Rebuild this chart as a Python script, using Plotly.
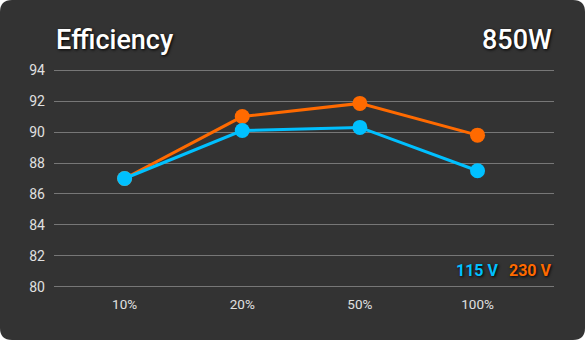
import plotly.graph_objects as go

categories = ["10%", "20%", "50%", "100%"]
v115 = [87.0, 90.1, 90.3, 87.5]
v230 = [87.0, 91.0, 91.85, 89.8]
y_ticks = [80, 82, 84, 86, 88, 90, 92, 94]

BLUE = "#00C0FF"
ORANGE = "#FF6A00"
W, H = 585, 340
ML, MR, MT, MB = 54, 31, 67, 50

fig = go.Figure()
fig.add_trace(go.Scatter(x=categories, y=v230, mode="lines+markers",
                         line=dict(color=ORANGE, width=3), marker=dict(size=15, color=ORANGE),
                         name="230 V", showlegend=False))
fig.add_trace(go.Scatter(x=categories, y=v115, mode="lines+markers",
                         line=dict(color=BLUE, width=3), marker=dict(size=15, color=BLUE),
                         name="115 V", showlegend=False))

pw = W - ML - MR
ph = H - MT - MB
x0 = -ML / pw
x1 = 1 + MR / pw
y0 = -MB / ph
y1 = 1 + MT / ph
r = 12
rx = r / pw
ry = r / ph
path = (f"M {x0+rx},{y1} L {x1-rx},{y1} Q {x1},{y1} {x1},{y1-ry} "
        f"L {x1},{y0+ry} Q {x1},{y0} {x1-rx},{y0} L {x0+rx},{y0} Q {x0},{y0} {x0},{y0+ry} "
        f"L {x0},{y1-ry} Q {x0},{y1} {x0+rx},{y1} Z")
fig.add_shape(type="path", path=path, xref="paper", yref="paper",
              fillcolor="#333333", line=dict(width=0), layer="below")

shadow = "1px 1px 3px #000000"
fig.add_annotation(text="Efficiency", xref="paper", yref="paper", x=0, y=1 + (MT - 40) / ph,
                   xanchor="left", yanchor="middle", showarrow=False,
                   font=dict(family="Roboto", size=27, weight=500, color="white", shadow=shadow))
fig.add_annotation(text="850W", xref="paper", yref="paper", x=1, y=1 + (MT - 40) / ph,
                   xanchor="right", yanchor="middle", showarrow=False,
                   font=dict(family="Roboto", size=27, weight=500, color="white", shadow=shadow))
fig.add_annotation(text="<b>230 V</b>", xref="paper", yref="paper", x=1, y=(H - MB - 270) / ph,
                   xanchor="right", yanchor="middle", showarrow=False,
                   font=dict(family="Roboto", size=16, color=ORANGE, shadow=shadow))
fig.add_annotation(text="<b>115 V</b>", xref="paper", yref="paper", x=1 - 53 / pw,
                   y=(H - MB - 270) / ph,
                   xanchor="right", yanchor="middle", showarrow=False,
                   font=dict(family="Roboto", size=16, color=BLUE, shadow=shadow))

fig.update_layout(
    width=W, height=H,
    margin=dict(l=ML, r=MR, t=MT, b=MB),
    paper_bgcolor="white", plot_bgcolor="rgba(0,0,0,0)",
    font=dict(family="Roboto", color="#e0e0e0", size=13),
    xaxis=dict(range=[-0.6, 3.65], showgrid=False, zeroline=False, showline=False,
               ticks="", ticklabelstandoff=4, tickfont=dict(size=13.5, color="#e0e0e0")),
    yaxis=dict(range=[79.8, 94.2], tickvals=y_ticks, showgrid=True, gridcolor="#777777",
               gridwidth=1, zeroline=False, showline=False, ticks="", ticklabelstandoff=8,
               tickfont=dict(size=14, color="#e0e0e0")),
)

fig.write_html("out.html")
